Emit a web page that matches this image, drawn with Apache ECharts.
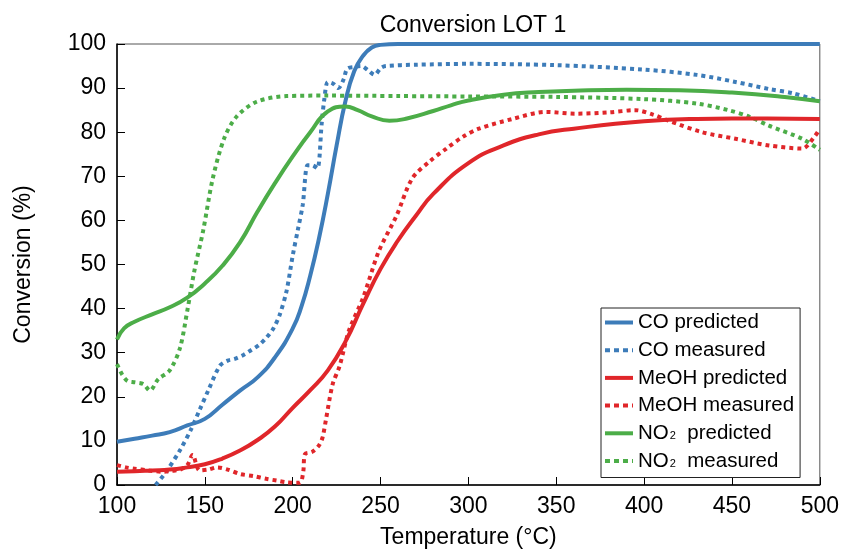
<!DOCTYPE html>
<html>
<head>
<meta charset="utf-8">
<script src="https://cdn.jsdelivr.net/npm/echarts@6/dist/echarts.min.js"></script>
<style>html,body{margin:0;padding:0;background:#fff}#c{width:842px;height:554px}</style>
</head>
<body>
<div id="c"></div>
<script>
const xTicks = [100,150,200,250,300,350,400,450,500];
const yTicks = [0,10,20,30,40,50,60,70,80,90,100];

const coPredT = [100,110,120,130,140,150,160,170,180,190,200,205,210,215,220,225,230,235,240,245,250,260,300,400,500];
const coPredV = [9.8,10.5,11.2,12,13.5,15,18.2,21.4,24.4,29,35.5,40.5,47.5,56,66,77,87,93.8,97.3,99.2,99.8,100,100,100,100];

const coMeasT = [122,128,136,142,147,152,158.5,163,167,172,176,181,185,189,192.6,196.5,200,203,205.7,208.5,211,214,216.5,218,220,223,226,229,231,235,239,243,246.6,250,253,270,300,350,400,430,452,471,485,500];
const coMeasV = [0,3,8,12.5,17,21.5,27,28.2,28.6,29.5,30.5,31.8,33.4,35.5,38.6,44,52,58,63.5,72.5,72.5,71.8,82,87.5,91.4,91,90,92,94.4,94.8,95,94,93,94.5,95,95.3,95.5,95.2,94.2,93,91.4,89.8,88.8,87];

const meohPredT = [100,110,120,130,140,150,160,170,180,190,200,210,220,230,240,250,260,270,280,300,320,340,360,400,430,470,500];
const meohPredV = [3,3.1,3.3,3.5,4,4.7,6,7.8,10.2,13.3,17.5,21.5,26,32.5,41,49,55.5,61,66,73,77,79.5,80.8,82.5,83,83.1,83];

const meohMeasT = [100,105,110,118,126,131,136,140,143,147,152,157,163,170,178,185,191,196.6,204,206,207,211,215,217,219,222.7,226.7,232,240,249,259,268,278,287.5,297,306,325,344,361,380,395,405,414,433,452,471,490,497,500];
const meohMeasV = [4.5,4,3.7,3.3,3,3.2,3.5,4.5,6.8,3.3,3.5,4,3.5,2.5,2,1.4,1,0.6,0.5,3,7,7.5,9,10.8,15,22.8,27,35,42.4,53,61,69.5,73.4,76.3,79,80.8,83,84.6,84.2,84.5,85,84,82.6,80,78.5,77,76.3,79,80.8];

const no2PredT = [100,104,110,120,130,140,150,160,170,180,190,200,210,220,230,237,245,255,265,280,290,300,320,340,360,390,420,450,480,500];
const no2PredV = [33,35.5,37,38.7,40.3,42.5,45.7,49.7,55,62,68.5,74.5,80,84.7,85.8,85,83.6,82.6,83.1,84.8,86.1,87.2,88.5,89.1,89.4,89.6,89.5,89,88,87];

const no2MeasT = [100,103,106,110,115,118.7,123.5,130,135.8,140,144,149,154.5,161,168,179.5,196.6,220,260,300,350,400,430,448,460,471,490,500];
const no2MeasV = [27.4,25,23.6,23.3,22.9,21.4,24,26,31,39.5,48.5,57.6,69.5,78.6,83.5,86.9,88.2,88.3,88.2,88.1,88,87.5,86.5,85,83.5,81.5,78.5,76];

const seriesNames = ['CO predicted','CO measured','MeOH predicted','MeOH measured','NO₂ predicted','NO₂ measured'];

const BLUE = '#3d7cb9', RED = '#e0262a', GREEN = '#4cad48';
const SOLID_ICON = 'path://M0,0h28v4h-28z';
const DOT_ICON = 'path://M0,0h5v4h-5z M9,0h5v4h-5z M18,0h5v4h-5z M27,0h1v4h-1z';
function pairs(t, v){ return t.map((x,i)=>[x, v[i]]); }
function mk(name, t, v, color, dotted, smooth){
  return {
    name, type:'line', data: pairs(t,v), showSymbol:false, symbol:'none',
    smooth: smooth, clip:true,
    lineStyle:{color, width:4, type: dotted?[4,4]:'solid', cap:'butt'},
    itemStyle:{color}, z: dotted?2:3
  };
}
const chart = echarts.init(document.getElementById('c'), null, {renderer:'canvas'});
const FONT = 'Liberation Sans, Arial, sans-serif';
chart.setOption({
  animation:false,
  backgroundColor:'#fff',
  title:{text:'Conversion LOT 1', top:9, left:468, textAlign:'center',
    textStyle:{fontFamily:FONT, fontSize:23, fontWeight:'normal', color:'#000'}},
  grid:{left:117, right:21, top:44, bottom:66, show:true, borderColor:'#555', borderWidth:1},
  xAxis:{type:'value', min:100, max:500, interval:50,
    name:'Temperature (°C)', nameLocation:'middle', nameGap:41,
    nameTextStyle:{fontFamily:FONT, fontSize:23, color:'#000'},
    axisLine:{show:true, lineStyle:{color:'#000', width:1.5}},
    axisTick:{show:true, inside:true, length:8, lineStyle:{color:'#000', width:1}},
    axisLabel:{fontFamily:FONT, fontSize:23, color:'#000', margin:10},
    splitLine:{show:false}},
  yAxis:{type:'value', min:0, max:100, interval:10,
    name:'Conversion (%)', nameLocation:'middle', nameGap:82, nameRotate:90,
    nameTextStyle:{fontFamily:FONT, fontSize:23, color:'#000'},
    axisLine:{show:true, lineStyle:{color:'#000', width:1.5}},
    axisTick:{show:true, inside:true, length:8, lineStyle:{color:'#000', width:1}},
    axisLabel:{fontFamily:FONT, fontSize:23, color:'#000', margin:11},
    splitLine:{show:false}},
  legend:{orient:'vertical', left:601, top:308,
    data: seriesNames.map((n,i)=>({name:n, icon: i%2 ? DOT_ICON : SOLID_ICON})),
    backgroundColor:'#fff', borderColor:'#222', borderWidth:1,
    padding:[4,6,6,4], itemWidth:28, itemHeight:4, itemGap:6.7,
    textStyle:{fontFamily:FONT, fontSize:20.5, color:'#000', lineHeight:20,
      rich:{s:{fontFamily:FONT, fontSize:11, color:'#000', padding:[6,0,0,1]}, n:{fontFamily:FONT, fontSize:20.5, color:'#000'}}},
    formatter: function(name){
      if (name.indexOf('NO₂') === 0) return '{n|NO}{s|2}{n|  ' + name.slice(4) + '}';
      return name;
    }
  },
  series:[
    mk(seriesNames[0], coPredT, coPredV, BLUE, false, 0.5),
    mk(seriesNames[1], coMeasT, coMeasV, BLUE, true, 0.3),
    mk(seriesNames[2], meohPredT, meohPredV, RED, false, 0.5),
    mk(seriesNames[3], meohMeasT, meohMeasV, RED, true, 0.3),
    mk(seriesNames[4], no2PredT, no2PredV, GREEN, false, 0.5),
    mk(seriesNames[5], no2MeasT, no2MeasV, GREEN, true, 0.3)
  ]
});
</script>
</body>
</html>
